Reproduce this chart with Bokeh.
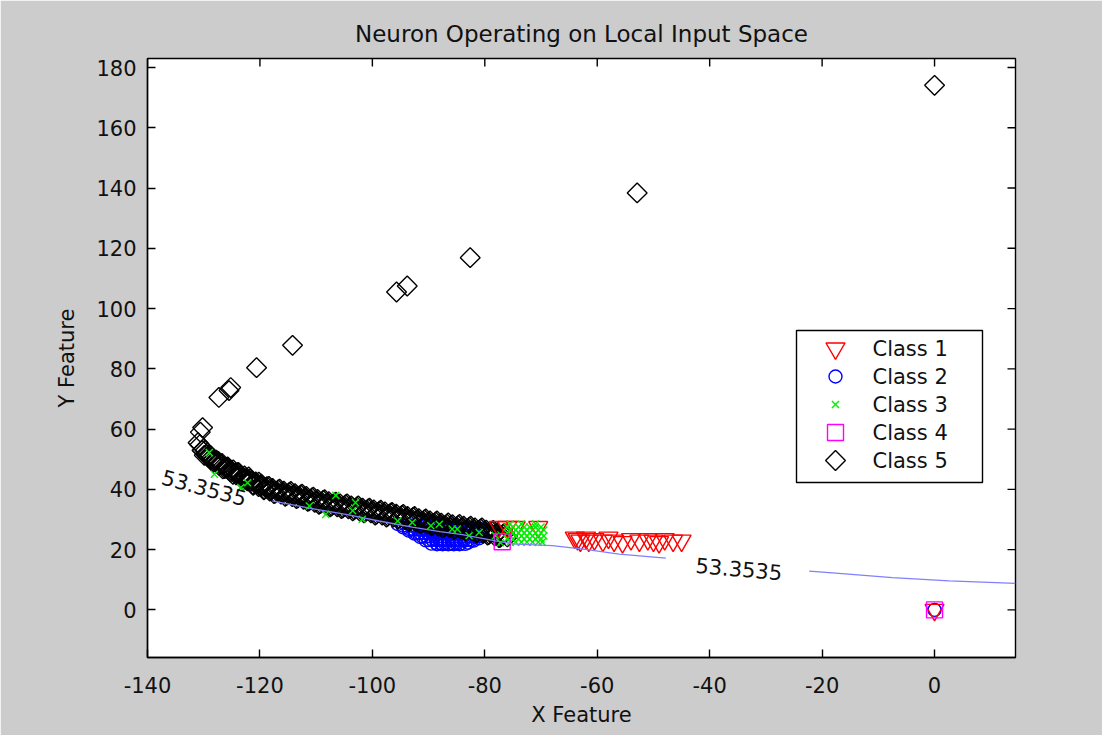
import math
from bokeh.plotting import figure
from bokeh.models import ColumnDataSource, FixedTicker, Range1d
from bokeh.core.properties import value
from bokeh.embed import file_html
from bokeh.resources import INLINE

FONT = "DejaVu Sans"

# ---------------- data ----------------
x_ticks = [-140, -120, -100, -80, -60, -40, -20, 0]
x_tick_labels = ["-140", "-120", "-100", "-80", "-60", "-40", "-20", "0"]
y_ticks = [0, 20, 40, 60, 80, 100, 120, 140, 160, 180]
y_tick_labels = ["0", "20", "40", "60", "80", "100", "120", "140", "160", "180"]

legend_labels = ["Class 1", "Class 2", "Class 3", "Class 4", "Class 5"]

class1_x = [-77.5, -76, -74.5, -70.5,
            -64, -63.5, -63, -62, -61.5, -60.5, -59, -58, -57, -55.5, -54,
            -52.5, -51, -50, -49, -48, -46.5, -45, 0]
class1_y = [27.5, 27.5, 27.5, 27.5,
            24, 23.5, 23, 24, 23, 23.5, 23, 24, 23, 22.5, 23.5,
            23, 23.5, 23, 22.5, 23.5, 23, 23, 0]

class2_x = [-95.5, -94.5, -93.5, -92.5, -91.5, -90.5, -89.5, -88.5, -87.5,
            -86.5, -85.5, -84.5, -83.5, -83, -82, -81, -80.8,
            -88.5, -87.8, -87.1, -86.4, -85.7, -85.0, -84.3,
            -90.0, -89.3, -88.6, -87.9, -87.2, -86.5, -85.8, -85.1, -84.4,
            -83.7, -83.0, -82.3,
            -91.1, -90.4, -89.7, -89.0, -88.3, -87.6, -86.9, -86.2, -85.5,
            -84.8, -84.1, -83.4, -82.7, -82.0, -81.3,
            -92.3, -91.6, -90.9, -90.2, -89.5, -88.8, -88.1, -87.4, -86.7,
            -86.0, -85.3, -84.6, -83.9, -83.2, -82.5, -81.8, -81.1, -80.4,
            -93.4, -92.7, -92.0, -91.3, -90.6, -89.9, -89.2, -88.5, -87.8,
            -87.1, -86.4, -85.7, -85.0, -84.3, -83.6, -82.9, -82.2, -81.5,
            -80.8,
            -94.6, -93.9, -93.2, -92.5, -91.8, -91.1, -90.4, -89.7, -89.0,
            -88.3, -87.6, -86.9, 0]
class2_y = [28.5, 27.4, 26.3, 25.3, 24.2, 23.1, 22.0, 21.8, 21.8,
            21.8, 21.8, 21.8, 21.9, 22.3, 23.0, 23.8, 24.5,
            22.0, 22.0, 22.0, 22.0, 22.0, 22.0, 22.0,
            23.2, 23.2, 23.2, 23.2, 23.2, 23.2, 23.2, 23.2, 23.2,
            23.2, 23.2, 23.2,
            24.4, 24.4, 24.4, 24.4, 24.4, 24.4, 24.4, 24.4, 24.4,
            24.4, 24.4, 24.4, 24.4, 24.4, 24.4,
            25.6, 25.6, 25.6, 25.6, 25.6, 25.6, 25.6, 25.6, 25.6,
            25.6, 25.6, 25.6, 25.6, 25.6, 25.6, 25.6, 25.6, 25.6,
            26.8, 26.8, 26.8, 26.8, 26.8, 26.8, 26.8, 26.8, 26.8,
            26.8, 26.8, 26.8, 26.8, 26.8, 26.8, 26.8, 26.8, 26.8,
            26.8,
            28.0, 28.0, 28.0, 28.0, 28.0, 28.0, 28.0, 28.0, 28.0,
            28.0, 28.0, 28.0, 0]

class3_x = [-129, -128.1, -123.4, -122.2, -111.2, -108.3, -106.5, -103, -103.5,
            -101.8, -95.5, -92.9, -89.6, -88.1, -85.8, -84.9, -82.8, -81,
            -78.1, -77.2,
            -75.5, -74.5, -73.5, -72.5, -71.5, -70.5, -69.8,
            -76.0, -75.0, -74.0, -73.0, -72.0, -71.0, -70.0,
            -75.5, -74.5, -73.5, -72.5, -71.5, -70.5, -69.5,
            -76.0, -75.0, -74.0, -73.0, -72.0, -71.0, -70.0,
            -75.5, -74.5, -73.5, -72.5, -71.5, -70.5, -69.5,
            -76.0, -75.0, -74.0, -73.0, -72.0, -71.0, -70.0,
            -75.5, -73.5, -71.0]
class3_y = [52.2, 45, 40.6, 42.2, 34.5, 31.7, 38, 35.6, 32.9,
            30.1, 29.5, 29, 27.9, 28.4, 26.8, 26.8, 24.6, 25.7,
            24.6, 22.3,
            22.5, 22.5, 22.5, 22.5, 22.5, 22.5, 22.5,
            23.5, 23.5, 23.5, 23.5, 23.5, 23.5, 23.5,
            24.5, 24.5, 24.5, 24.5, 24.5, 24.5, 24.5,
            25.5, 25.5, 25.5, 25.5, 25.5, 25.5, 25.5,
            26.5, 26.5, 26.5, 26.5, 26.5, 26.5, 26.5,
            27.5, 27.5, 27.5, 27.5, 27.5, 27.5, 27.5,
            28.5, 28.5, 28.5]

class4_x = [-76.9, 0]
class4_y = [22.6, 0]

class5_x = [0, -52.9, -82.6, -93.8, -95.7, -114.2, -120.6, -125.2, -125.5,
            -127.3, -130.2, -130.6,
            # band, row 1
            -131.0, -130.3, -129.5, -128.7, -127.9, -127.0, -126.1, -125.2,
            -124.3, -123.4, -122.5, -121.6, -120.7, -119.8, -118.9, -118.0,
            -117.0, -116.0, -115.0, -114.0, -113.0, -112.0, -111.0, -110.0,
            -109.0, -108.0, -107.0, -106.0, -105.0, -104.0, -103.0, -102.0,
            -101.0, -100.0, -99.0, -98.0, -97.0, -96.0, -95.0, -94.0, -93.0,
            -92.0, -91.0, -90.0, -89.0, -88.0, -87.0, -86.0, -85.0, -84.0,
            -83.0, -82.0, -81.0, -80.0, -79.0, -78.0, -77.0, -76.0,
            # band, row 2
            -130.7, -129.9, -129.1, -128.3, -127.4, -126.6, -125.7, -124.8,
            -123.9, -123.0, -122.0, -121.2, -120.2, -119.3, -118.4, -117.5,
            -116.5, -115.5, -114.5, -113.5, -112.5, -111.5, -110.5, -109.5,
            -108.5, -107.5, -106.5, -105.5, -104.5, -103.5, -102.5, -101.5,
            -100.5, -99.5, -98.5, -97.5, -96.5, -95.5, -94.5, -93.5, -92.5,
            -91.5, -90.5, -89.5, -88.5, -87.5, -86.5, -85.5, -84.5, -83.5,
            -82.5, -81.5, -80.5, -79.5, -78.5, -77.5, -76.5,
            # band, row 3
            -129.75, -128.75, -127.75, -126.75, -125.75, -124.75, -123.75,
            -122.75, -121.75, -120.75, -119.75, -118.75, -117.75, -116.75,
            -115.75, -114.75, -113.75, -112.75, -111.75, -110.75, -109.75,
            -108.75, -107.75, -106.75, -105.75, -104.75, -103.75, -102.75,
            -101.75, -100.75, -99.75, -98.75, -97.75, -96.75, -95.75, -94.75,
            -93.75, -92.75, -91.75, -90.75, -89.75, -88.75, -87.75, -86.75,
            -85.75, -84.75, -83.75, -82.75, -81.75, -80.75, -79.75, -78.75,
            -77.75, -76.75,
            # band, row 4
            -130.25, -129.25, -128.25, -127.25, -126.25, -125.25, -124.25,
            -123.25, -122.25, -121.25, -120.25, -119.25, -118.25, -117.25,
            -116.25, -115.25, -114.25, -113.25, -112.25, -111.25, -110.25,
            -109.25, -108.25, -107.25, -106.25, -105.25, -104.25, -103.25,
            -102.25, -101.25, -100.25, -99.25, -98.25, -97.25, -96.25, -95.25,
            -94.25, -93.25, -92.25, -91.25, -90.25, -89.25, -88.25, -87.25,
            -86.25, -85.25, -84.25, -83.25, -82.25, -81.25, -80.25, -79.25,
            -78.25, -77.25]
class5_y = [174.1, 138.4, 116.9, 107.5, 105.5, 87.8, 80.4, 73.8, 72.8,
            70.5, 60.5, 59.0,
            55.5, 53.0, 51.5, 50.3, 49.3, 48.3, 47.3, 46.4,
            45.5, 44.6, 43.6, 42.7, 41.9, 41.1, 40.4, 39.8,
            39.3, 38.9, 38.5, 38.1, 37.7, 37.2, 36.7, 36.2,
            35.8, 35.4, 35.0, 34.7, 34.4, 34.0, 33.7, 33.3,
            33.0, 32.7, 32.3, 32.0, 31.6, 31.3, 30.9, 30.5, 30.2,
            29.8, 29.4, 29.0, 28.7, 28.3, 28.0, 27.8, 27.5, 27.3,
            27.0, 26.7, 26.4, 26.0, 25.6, 25.1, 24.6, 24.2,
            54.8, 51.3, 51.4, 48.9, 49.3, 46.8, 47.3, 45.0,
            45.6, 43.1, 44.1, 41.3, 42.4, 39.8, 41.0, 38.6,
            40.1, 37.7, 39.3, 36.9, 38.4, 36.0, 37.4, 35.0,
            36.6, 34.2, 35.8, 33.6, 35.2, 32.9, 34.5, 32.2,
            33.8, 31.5, 33.1, 30.8, 32.4, 30.1, 31.7, 29.4, 31.0,
            28.6, 30.2, 27.9, 29.5, 27.2, 28.9, 26.7, 28.4, 26.2,
            27.8, 25.6, 27.2, 24.8, 26.4, 24.0, 25.4,
            52.9, 51.2, 49.7, 48.6, 47.5, 46.5, 45.5,
            44.5, 43.4, 42.5, 41.7, 40.9, 40.3, 39.8,
            39.4, 39.0, 38.6, 38.2, 37.7, 37.2, 36.7,
            36.3, 35.9, 35.5, 35.2, 34.9, 34.5, 34.2,
            33.8, 33.5, 33.2, 32.8, 32.5, 32.1, 31.8, 31.4,
            31.0, 30.7, 30.3, 29.9, 29.5, 29.2, 28.8, 28.5,
            28.3, 28.0, 27.8, 27.5, 27.2, 26.9, 26.5, 26.1,
            25.6, 25.1,
            52.9, 50.8, 49.2, 48.0, 46.9, 45.8, 44.8,
            43.8, 42.8, 41.7, 40.9, 40.1, 39.4, 38.8,
            38.4, 38.0, 37.6, 37.2, 36.7, 36.2, 35.7,
            35.3, 34.9, 34.5, 34.2, 33.9, 33.5, 33.2,
            32.8, 32.5, 32.2, 31.8, 31.5, 31.1, 30.8, 30.4,
            30.0, 29.7, 29.3, 28.9, 28.5, 28.2, 27.8, 27.5,
            27.3, 27.0, 26.8, 26.5, 26.2, 25.9, 25.5, 25.1,
            24.6, 24.1]

contour_a_x = [-117.8, -110.7, -104.7, -98.8, -92.9, -88.0, -84.0, -78.1,
               -74.5, -68.0, -62.1, -56.1, -47.8]
contour_a_y = [36.2, 33.6, 31.7, 29.5, 27.5, 26.0, 25.0, 22.9,
               21.8, 21.3, 20.1, 18.5, 17.2]
contour_b_x = [-22.3, -17.6, -7.5, 2.6, 14.4]
contour_b_y = [12.9, 12.2, 10.7, 9.6, 8.8]

contour_label_text = ["53.3535", "53.3535"]
contour_label_x = [-129.9, -34.8]
contour_label_y = [40.6, 13.7]
contour_label_angle = [-15, -5]

# ---------------- layout constants ----------------
X_MIN, X_MAX = -140, 14.4
Y_MIN, Y_MAX = -15.8, 183
FW, FH = 868, 599
TICK = 8

p = figure(frame_width=FW, frame_height=FH,
           x_range=Range1d(X_MIN, X_MAX), y_range=Range1d(Y_MIN, Y_MAX),
           output_backend="svg", toolbar_location=None,
           min_border_left=147, min_border_right=87,
           min_border_top=58, min_border_bottom=78,
           title="Neuron Operating on Local Input Space",
           x_axis_label="X Feature", y_axis_label="Y Feature")
p.extra_x_ranges = {"px": Range1d(0, FW)}
p.extra_y_ranges = {"px": Range1d(0, FH)}
p.border_fill_color = "#cccccc"
p.background_fill_color = "white"
p.outline_line_color = "black"
p.outline_line_width = 1.4
p.grid.visible = False

p.title.align = "center"
p.title.text_font = FONT
p.title.text_font_size = "23px"
p.title.text_font_style = "normal"
p.title.text_color = "#111111"
p.title.standoff = 23

for ax, ticks, labels in [(p.xaxis[0], x_ticks, x_tick_labels),
                          (p.yaxis[0], y_ticks, y_tick_labels)]:
    ax.ticker = FixedTicker(ticks=ticks)
    ax.major_label_overrides = dict(zip(ticks, labels))
    ax.major_tick_in = TICK
    ax.major_tick_out = 0
    ax.minor_tick_line_color = None
    ax.axis_line_color = "black"
    ax.axis_line_width = 1.4
    ax.major_tick_line_color = "black"
    ax.major_tick_line_width = 1.4
    ax.major_label_text_font = FONT
    ax.major_label_text_font_size = "21px"
    ax.major_label_text_color = "#111111"
    ax.axis_label_text_font = FONT
    ax.axis_label_text_font_size = "21px"
    ax.axis_label_text_font_style = "normal"
    ax.axis_label_text_color = "#111111"

p.xaxis[0].major_label_standoff = 19
p.xaxis[0].axis_label_standoff = 7
p.yaxis[0].major_label_standoff = 11
p.yaxis[0].axis_label_standoff = 14

# mirrored ticks on the top and right edges of the box
ppu_x = FW / (X_MAX - X_MIN)
ppu_y = FH / (Y_MAX - Y_MIN)
p.segment(x0=x_ticks, x1=x_ticks, y0=[Y_MAX] * len(x_ticks),
          y1=[Y_MAX - TICK / ppu_y] * len(x_ticks),
          line_color="black", line_width=1.4)
p.segment(x0=[X_MAX] * len(y_ticks), x1=[X_MAX - TICK / ppu_x] * len(y_ticks),
          y0=y_ticks, y1=y_ticks, line_color="black", line_width=1.4)

# ---------------- glyphs ----------------
STY = {
    "Class 1": dict(marker="inverted_triangle", size=19, line_color="red", angle=0.0),
    "Class 2": dict(marker="circle", size=13, line_color="blue", angle=0.0),
    "Class 3": dict(marker="x", size=10, line_color="#00ee00", angle=0.0),
    "Class 4": dict(marker="square", size=16, line_color="magenta", angle=0.0),
    "Class 5": dict(marker="square", size=14, line_color="black", angle=math.pi / 4),
}


def draw(xs, ys, name, **kw):
    s = STY[name]
    p.scatter(xs, ys, marker=s["marker"], size=s["size"], angle=s["angle"],
              line_color=s["line_color"], fill_color=None, line_width=1.4, **kw)


draw(class2_x, class2_y, "Class 2")
draw(class5_x, class5_y, "Class 5")
draw(class1_x, class1_y, "Class 1")
draw(class3_x, class3_y, "Class 3")
draw(class4_x, class4_y, "Class 4")

p.line(contour_a_x, contour_a_y, line_color="#8080ff", line_width=1.3)
p.line(contour_b_x, contour_b_y, line_color="#8080ff", line_width=1.3)

lbl_src = ColumnDataSource(dict(
    x=contour_label_x, y=contour_label_y, text=contour_label_text,
    angle=[math.radians(a) for a in contour_label_angle]))
p.text(x="x", y="y", text="text", angle="angle", source=lbl_src,
       text_font=value(FONT), text_font_size="21px", text_align="center",
       text_baseline="middle", text_color="#111111")

# ---------------- legend (frame pixel coordinates) ----------------
LEG_L, LEG_R, LEG_T, LEG_B = 649, 835, 327, 175
LEG_ROW0, LEG_PITCH = 309, 28
LEG_MARK_X, LEG_TEXT_X = 688, 725

p.quad(left=[LEG_L], right=[LEG_R], top=[LEG_T], bottom=[LEG_B],
       x_range_name="px", y_range_name="px",
       fill_color="white", line_color="black", line_width=1.4)
row_y = [LEG_ROW0 - i * LEG_PITCH for i in range(len(legend_labels))]
for name, ry in zip(legend_labels, row_y):
    draw([LEG_MARK_X], [ry], name, x_range_name="px", y_range_name="px")
p.text(x=[LEG_TEXT_X] * len(legend_labels), y=row_y, text=legend_labels,
       x_range_name="px", y_range_name="px",
       text_font=value(FONT), text_font_size="21px", text_align="left",
       text_baseline="middle", text_color="#111111")

open("out.html", "w").write(file_html(p, INLINE))
